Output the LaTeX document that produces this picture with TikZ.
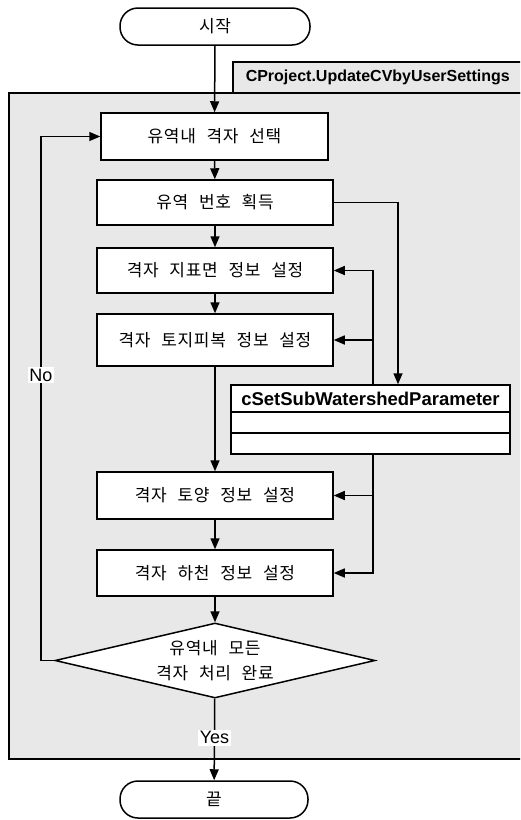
\documentclass[tikz,border=0pt]{standalone}
\usepackage{fontspec}
\setmainfont{Liberation Sans}
\newfontfamily\krfont{Noto Sans CJK KR}[LetterSpace=4,WordSpace=2.4]
\usetikzlibrary{arrows.meta,shapes.geometric}
\definecolor{panel}{HTML}{E8E8E8}
\begin{document}
\begin{tikzpicture}[x=1pt,y=-1pt,line width=1.5pt,
  arr/.style={-{Triangle[length=11pt,width=9pt]}},
  krtext/.style={font=\krfont\fontsize{17}{25}\selectfont},
  proc/.style={draw,fill=white,inner sep=0pt,minimum width=236pt,krtext},
  term/.style={draw,fill=white,rounded corners=18pt,inner sep=0pt,minimum height=37pt,krtext},
  decide/.style={draw,fill=white,diamond,aspect=4.27,inner sep=0pt,minimum width=320pt,minimum height=75pt,align=center,krtext},
  classbox/.style={draw,fill=white,inner sep=0pt,minimum width=279pt,minimum height=69pt},
  tag/.style={fill=white,inner sep=1.5pt,font=\fontsize{18}{20}\selectfont}]
\useasboundingbox (0,0) rectangle (520,820);
\clip (0,0) rectangle (520,820);

% surrounding method frame and its title tab
\draw[fill=panel] (9,93) rectangle (530,759);
\draw[fill=panel] (233,62) rectangle (530,93);
\node[anchor=west,inner sep=0pt,font=\bfseries\fontsize{16}{18}\selectfont] (title) at (245,77.5) {CProject.UpdateCVbyUserSettings};

% terminals
\node[term,minimum width=190pt] (start) at (215,26.5) {시작};
\node[term,minimum width=188pt] (end) at (214,799.5) {끝};

% process steps
\node[proc,minimum width=227pt,minimum height=47pt] (b1) at (214.5,136.5) {유역내 격자 선택};
\node[proc,minimum height=45pt] (b2) at (215,202.5) {유역 번호 획득};
\node[proc,minimum height=45pt] (b3) at (215,270.5) {격자 지표면 정보 설정};
\node[proc,minimum height=52pt] (b4) at (215,340) {격자 토지피복 정보 설정};
\node[proc,minimum height=47pt] (b5) at (215,495.5) {격자 토양 정보 설정};
\node[proc,minimum height=46pt] (b6) at (215,573) {격자 하천 정보 설정};

% decision
\node[decide] (dia) at (215,660.5) {유역내 모든\\격자 처리 완료};

% class box with two empty compartments
\node[classbox] (cls) at (370.5,419.5) {};
\node[inner sep=0pt,font=\bfseries\fontsize{18.5}{20}\selectfont] (clsname) at (370.5,398.5) {cSetSubWatershedParameter};
\draw (cls.west |- 0,412) -- (cls.east |- 0,412);
\draw (cls.west |- 0,433) -- (cls.east |- 0,433);

% main flow
\draw[arr] (start) -- (b1);
\draw[arr] (b1) -- (b2);
\draw[arr] (b2) -- (b3);
\draw[arr] (b3) -- (b4);
\draw[arr] (b4) -- (b5);
\draw[arr] (b5) -- (b6);
\draw[arr] (b6) -- (dia);
\draw[arr] (dia) -- node[tag,pos=0.48] (yes) {Yes} (end);

% loop back when not finished
\coordinate (noturn) at (41,660.5);
\draw[arr] (dia.west) -- (noturn) |- node[tag,pos=0.2725] (no) {No} (b1.west);

% parameter object links
\draw[arr] (b2.east) -| ([xshift=27.5pt]cls.north);
\draw[arr] ([xshift=2.5pt]cls.north) |- (b3.east);
\draw[arr] ([xshift=2.5pt]cls.north) |- (b4.east);
\draw[arr] ([xshift=2.5pt]cls.south) |- (b5.east);
\draw[arr] ([xshift=2.5pt]cls.south) |- (b6.east);
\end{tikzpicture}
\end{document}
